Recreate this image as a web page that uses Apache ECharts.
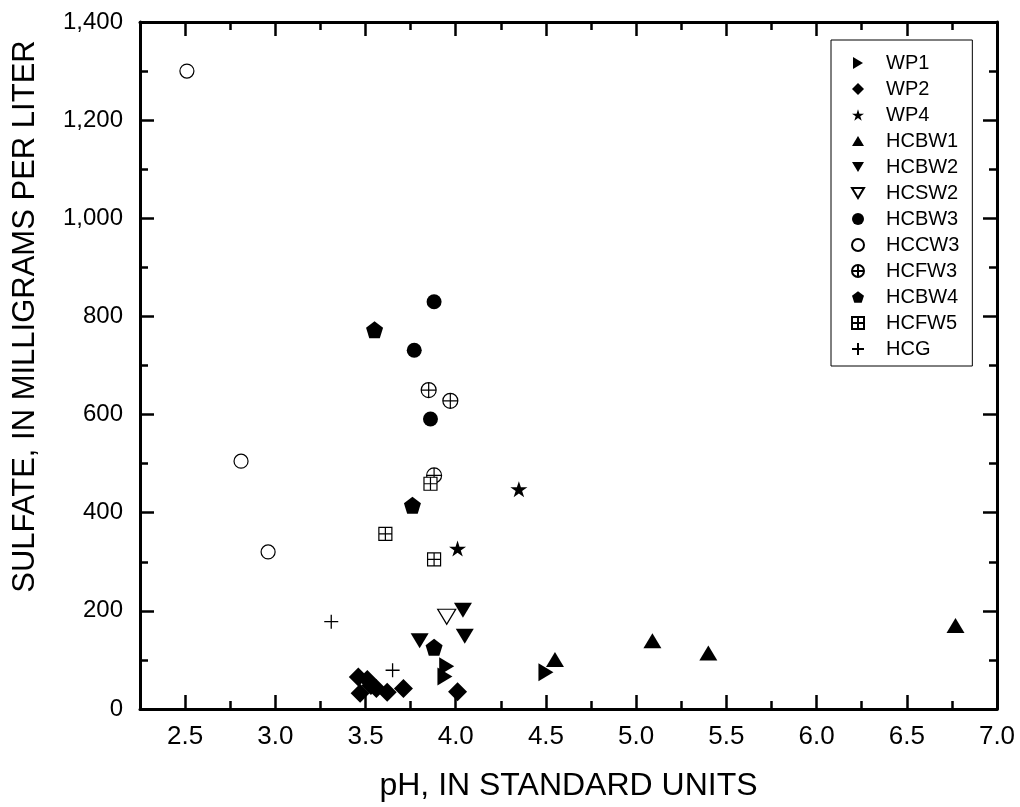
<!DOCTYPE html>
<html>
<head>
<meta charset="utf-8">
<script src="https://cdn.jsdelivr.net/npm/echarts@6/dist/echarts.min.js"></script>
<style>
html,body{margin:0;padding:0;background:#fff;}
#chart{width:1020px;height:807px;}
</style>
</head>
<body>
<div id="chart"></div>
<script>
// ---- data (pH, sulfate mg/L) ----
const wp1   = [[3.95, 87], [3.94, 66], [4.50, 75]];
const wp2   = [[3.46, 65], [3.47, 32], [3.51, 60], [3.53, 48], [3.56, 42], [3.62, 34], [3.71, 42], [4.01, 35]];
const wp4   = [[4.35, 448], [4.01, 327]];
const hcbw1 = [[4.55, 101], [5.09, 139], [5.40, 114], [6.77, 170]];
const hcbw2 = [[3.80, 139], [4.04, 201], [4.05, 148]];
const hcsw2 = [[3.95, 188]];
const hcbw3 = [[3.88, 830], [3.77, 731], [3.86, 591]];
const hccw3 = [[2.51, 1300], [2.81, 505], [2.96, 320]];
const hcfw3 = [[3.85, 650], [3.97, 628], [3.88, 476]];
const hcbw4 = [[3.55, 773], [3.76, 415], [3.88, 126]];
const hcfw5 = [[3.86, 459], [3.61, 357], [3.88, 305]];
const hcg   = [[3.31, 178], [3.65, 79]];

const seriesNames = ['WP1','WP2','WP4','HCBW1','HCBW2','HCSW2','HCBW3','HCCW3','HCFW3','HCBW4','HCFW5','HCG'];

const xTickLabels = ['2.5','3.0','3.5','4.0','4.5','5.0','5.5','6.0','6.5','7.0'];
const xMinorTicks = [2.75, 3.25, 3.75, 4.25, 4.75, 5.25, 5.75, 6.25, 6.75];
const yTickLabels = ['0','200','400','600','800','1,000','1,200','1,400'];

const xTitle = 'pH, IN STANDARD UNITS';
const yTitle = 'SULFATE, IN MILLIGRAMS PER LITER';

// ---- symbols ----
const TRI_RIGHT = 'path://M0,0L10,6L0,12Z';
const TRI_UP = 'path://M6,0L12,10L0,10Z';
const TRI_DOWN = 'path://M0,0L12,0L6,10Z';
const STAR = 'path://M0,-10L2.245,-3.09L9.511,-3.09L3.633,1.18L5.878,8.09L0,3.82L-5.878,8.09L-3.633,1.18L-9.511,-3.09L-2.245,-3.09Z';
const PENT = 'path://M0,-10L9.511,-3.09L5.878,8.09L-5.878,8.09L-9.511,-3.09Z';
const OPLUS = 'path://M0,-10A10,10,0,1,1,0,10A10,10,0,1,1,0,-10ZM-10,0L10,0M0,-10L0,10';
const BPLUS = 'path://M-10,-10L10,-10L10,10L-10,10ZM-10,0L10,0M0,-10L0,10';
const PLUS = 'path://M-10,0L10,0M0,-10L0,10';

const FONT = 'Liberation Sans, Arial, sans-serif';
const xMajor = xTickLabels.map(parseFloat);

const filled = {color: '#000', borderWidth: 0, opacity: 1};
const hollow = {color: '#fff', borderColor: '#000', borderWidth: 1.2, opacity: 1};
const lineOnly = {color: 'rgba(0,0,0,0)', borderColor: '#000', borderWidth: 1.3, opacity: 1};

function sc(name, data, symbol, size, style) {
  return {
    name: name, type: 'scatter', data: data, symbol: symbol, symbolSize: size,
    itemStyle: style, xAxisIndex: 0, yAxisIndex: 0,
    emphasis: {disabled: true}, z: 5
  };
}

const series = [
  sc('WP1', wp1, TRI_RIGHT, [15, 18], filled),
  sc('WP2', wp2, 'diamond', [19, 19], filled),
  sc('WP4', wp4, STAR, [17, 16], filled),
  sc('HCBW1', hcbw1, TRI_UP, [18, 15], filled),
  sc('HCBW2', hcbw2, TRI_DOWN, [18, 15], filled),
  sc('HCSW2', hcsw2, TRI_DOWN, [18, 15], hollow),
  sc('HCBW3', hcbw3, 'circle', 15, filled),
  sc('HCCW3', hccw3, 'circle', 14, hollow),
  sc('HCFW3', hcfw3, OPLUS, 15, hollow),
  sc('HCBW4', hcbw4, PENT, 17, filled),
  sc('HCFW5', hcfw5, BPLUS, 13, hollow),
  sc('HCG', hcg, PLUS, 14, lineOnly)
];

const axisLineStyle = {show: true, lineStyle: {color: '#000', width: 3}};
const majorTick = (vals) => ({show: true, inside: true, length: 14, customValues: vals, lineStyle: {color: '#000', width: 2.5}});
const minorTick = (vals) => ({show: true, inside: true, length: 8, customValues: vals, lineStyle: {color: '#000', width: 2.5}});

const chart = echarts.init(document.getElementById('chart'), null, {renderer: 'canvas'});
chart.setOption({
  animation: false,
  backgroundColor: '#fff',
  textStyle: {fontFamily: FONT, color: '#000'},
  grid: {left: 140, right: 23, top: 22, bottom: 95, containLabel: false},
  legend: {
    data: seriesNames,
    orient: 'vertical',
    left: 831, top: 40,
    padding: [13, 13, 7, 20],
    itemWidth: 12, itemHeight: 12, itemGap: 6,
    borderColor: '#000', borderWidth: 1,
    backgroundColor: '#fff',
    textStyle: {fontFamily: FONT, fontSize: 20, color: '#000', lineHeight: 20, padding: [0, 0, 0, 17]},
    selectedMode: false
  },
  xAxis: [
    {
      type: 'value', position: 'bottom', min: 2.25, max: 7.0,
      axisLine: axisLineStyle, axisTick: majorTick(xMajor),
      axisLabel: {customValues: xMajor, margin: 15, fontSize: 26, color: '#000', fontFamily: FONT,
        formatter: v => xTickLabels[xMajor.findIndex(t => Math.abs(t - v) < 1e-6)] || ''},
      splitLine: {show: false},
      name: xTitle, nameLocation: 'middle', nameGap: 61,
      nameTextStyle: {fontSize: 32, color: '#000', fontFamily: FONT}
    },
    {
      type: 'value', position: 'bottom', min: 2.25, max: 7.0,
      axisLine: {show: false}, axisTick: minorTick(xMinorTicks),
      axisLabel: {show: false}, splitLine: {show: false}
    },
    {
      type: 'value', position: 'top', min: 2.25, max: 7.0,
      axisLine: axisLineStyle, axisTick: majorTick(xMajor),
      axisLabel: {show: false}, splitLine: {show: false}
    },
    {
      type: 'value', position: 'top', min: 2.25, max: 7.0,
      axisLine: {show: false}, axisTick: minorTick(xMinorTicks),
      axisLabel: {show: false}, splitLine: {show: false}
    }
  ],
  yAxis: [
    {
      type: 'value', position: 'left', min: 0, max: 1400, interval: 200,
      axisLine: axisLineStyle,
      axisTick: {show: true, inside: true, length: 14, lineStyle: {color: '#000', width: 2.5}},
      minorTick: {show: true, splitNumber: 2, length: 8, lineStyle: {color: '#000', width: 2.5}},
      axisLabel: {margin: 17, fontSize: 24, color: '#000', fontFamily: FONT,
        formatter: v => yTickLabels[Math.round(v / 200)]},
      splitLine: {show: false},
      name: yTitle, nameLocation: 'middle', nameGap: 99,
      nameTextStyle: {fontSize: 31, color: '#000', fontFamily: FONT, padding: [0, 0, 0, 98]}
    },
    {
      type: 'value', position: 'right', min: 0, max: 1400, interval: 200,
      axisLine: axisLineStyle,
      axisTick: {show: true, inside: true, length: 14, lineStyle: {color: '#000', width: 2.5}},
      minorTick: {show: true, splitNumber: 2, length: 8, lineStyle: {color: '#000', width: 2.5}},
      axisLabel: {show: false}, splitLine: {show: false}
    }
  ],
  series: series
});
</script>
</body>
</html>
